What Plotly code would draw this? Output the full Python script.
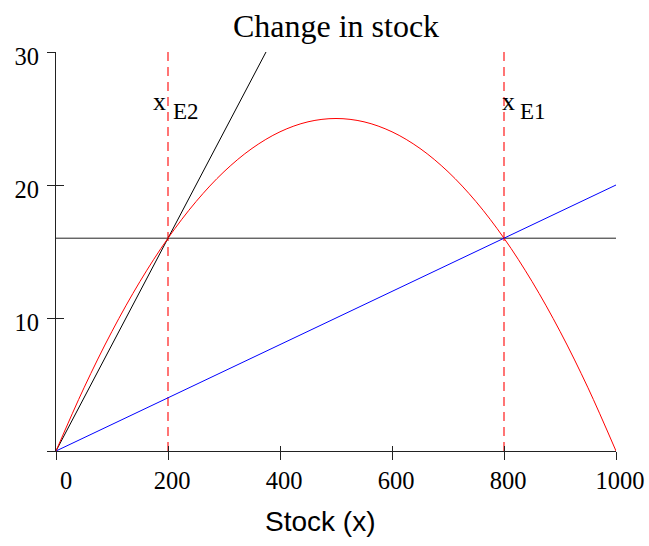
import plotly.graph_objects as go

# ---- data ----
stock = [0, 50, 100, 150, 200, 250, 300, 350, 400, 450, 500,
         550, 600, 650, 700, 750, 800, 850, 900, 950, 1000]
growth = [0, 4.75, 9, 12.75, 16, 18.75, 21, 22.75, 24, 24.75, 25,
          24.75, 24, 22.75, 21, 18.75, 16, 12.75, 9, 4.75, 0]
harvest_high_x = [0, 375]
harvest_high_y = [0, 30]
harvest_low_x = [0, 1000]
harvest_low_y = [0, 20]
catch_x = [0, 1000]
catch_y = [16, 16]
equilibria = [200, 800]
eq_names = ["E2", "E1"]
x_ticks = [0, 200, 400, 600, 800, 1000]
x_ticktext = ["0", "200", "400", "600", "800", "1000"]
y_ticks = [0, 10, 20, 30]
y_ticktext = ["", "10", "20", "30"]
x_range = [0, 1000]
y_range = [0, 30]

SERIF = "Liberation Serif"
SANS = "Liberation Sans"

fig = go.Figure()

# dashed equilibrium lines
for xe in equilibria:
    fig.add_trace(go.Scatter(x=[xe, xe], y=y_range, mode="lines",
                             line=dict(color="#ff1a1a", width=1.2, dash="9px,6px"),
                             showlegend=False, hoverinfo="skip"))

fig.add_trace(go.Scatter(x=catch_x, y=catch_y, mode="lines",
                         line=dict(color="#222222", width=1), showlegend=False))
fig.add_trace(go.Scatter(x=harvest_high_x, y=harvest_high_y, mode="lines",
                         line=dict(color="black", width=1), showlegend=False))
fig.add_trace(go.Scatter(x=harvest_low_x, y=harvest_low_y, mode="lines",
                         line=dict(color="#0000ff", width=1), showlegend=False))
fig.add_trace(go.Scatter(x=stock, y=growth, mode="lines", line_shape="spline",
                         line=dict(color="#ff0000", width=1), showlegend=False))
# empty trace to hold the overlay axes (inner half of the crossing ticks)
fig.add_trace(go.Scatter(x=[], y=[], xaxis="x2", yaxis="y2", showlegend=False))

# padding on the "0" label as in the reference
x_ticktext_disp = ["\u00a0\u00a0" + x_ticktext[0]] + x_ticktext[1:]

axis_common = dict(showgrid=False, zeroline=False, color="black", automargin=False)
fig.update_layout(
    width=649, height=546,
    margin=dict(l=56, r=33, t=52, b=95, autoexpand=False),
    paper_bgcolor="white", plot_bgcolor="white",
    title=dict(text="Change in stock", font=dict(family=SERIF, size=32, color="black"),
               x=0.5, xref="paper", xanchor="center",
               y=1 - 26 / 546, yref="container", yanchor="middle"),
    xaxis=dict(range=x_range, tickmode="array", tickvals=x_ticks, ticktext=x_ticktext_disp,
               ticks="outside", ticklen=8, tickwidth=1, tickcolor="#222",
               showline=True, linecolor="#222", linewidth=1,
               tickfont=dict(family=SERIF, size=24.5, color="black"),
               ticklabelshift=4, **axis_common),
    yaxis=dict(range=y_range, tickmode="array", tickvals=y_ticks, ticktext=y_ticktext,
               ticks="outside", ticklen=8, tickwidth=1, tickcolor="#222",
               showline=True, linecolor="#222", linewidth=1,
               tickfont=dict(family=SERIF, size=24.5, color="black"),
               ticklabelshift=4, ticklabelstandoff=3, **axis_common),
    xaxis2=dict(range=x_range, overlaying="x", anchor="y2", side="bottom",
                tickmode="array", tickvals=x_ticks, ticks="inside", ticklen=5,
                tickwidth=1, tickcolor="#222", showticklabels=False, showline=False,
                **axis_common),
    yaxis2=dict(range=y_range, overlaying="y", anchor="x2", side="left",
                tickmode="array", tickvals=y_ticks, ticks="inside", ticklen=8,
                tickwidth=1, tickcolor="#222", showticklabels=False, showline=False,
                **axis_common),
)

# axis title
fig.add_annotation(text="Stock (x)", xref="paper", yref="paper",
                   x=(320 - 56) / 560, y=-(522.8 - 452) / 399,
                   xanchor="center", yanchor="middle", showarrow=False,
                   font=dict(family=SANS, size=28, color="black"))

# equilibrium labels: x with subscript
x_label_pos = [184.8, 808.4]
sub_label_pos = [231.8, 851.8]
for xl, xs, name in zip(x_label_pos, sub_label_pos, eq_names):
    fig.add_annotation(text="x", x=xl, y=26.3, xref="x", yref="y",
                       showarrow=False, xanchor="center", yanchor="middle",
                       font=dict(family=SERIF, size=26, color="black"))
    fig.add_annotation(text=name, x=xs, y=25.5, xref="x", yref="y",
                       showarrow=False, xanchor="center", yanchor="middle",
                       font=dict(family=SERIF, size=23, color="black"))

fig.write_html("out.html")
